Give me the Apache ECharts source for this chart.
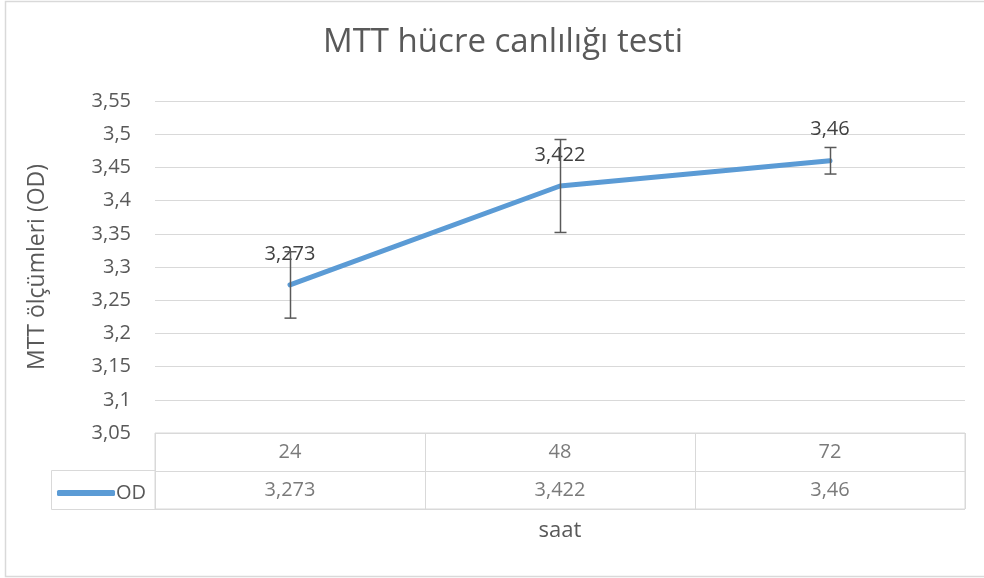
<!DOCTYPE html>
<html>
<head>
<meta charset="utf-8">
<script src="https://cdn.jsdelivr.net/npm/echarts@6/dist/echarts.min.js"></script>
<style>html,body{margin:0;padding:0;background:#fff}#c{width:984px;height:578px}</style>
</head>
<body>
<div id="c"></div>
<script>
var categories = ['24', '48', '72'];
var odValues = [3.273, 3.422, 3.46];
var errLow = [3.223, 3.352, 3.44];
var errHigh = [3.323, 3.492, 3.48];
var seriesName = 'OD';
var yMin = 3.05, yMax = 3.55, yStep = 0.05;

function fmt(v) { return String(+(+v).toFixed(3)).replace('.', ','); }

var FONT = 'Open Sans';
var TXT = '#595959';
var GRID = '#d9d9d9';

var chart = echarts.init(document.getElementById('c'), null, {renderer: 'canvas'});

var tableData = [];
categories.forEach(function (c, i) {
  tableData.push({value: [c, 'cat'], txt: c});
  tableData.push({value: [c, 'val'], txt: fmt(odValues[i])});
});

chart.setOption({
  animation: false,
  textStyle: {fontFamily: FONT},
  title: {
    text: 'MTT hücre canlılığı testi',
    left: 318, top: 21,
    textStyle: {fontFamily: FONT, fontSize: 33, fontWeight: 'normal', color: TXT}
  },
  legend: {
    show: true, left: 52, top: 478,
    icon: 'roundRect', itemWidth: 58, itemHeight: 6, itemGap: 2,
    data: [seriesName],
    textStyle: {fontFamily: FONT, fontSize: 20, color: TXT, padding: [0, 0, 0, -4]},
    selectedMode: false
  },
  grid: [
    {left: 155, right: 19, top: 101, bottom: 145, containLabel: false},
    {left: 155, right: 19, top: 433, height: 76, show: true, borderColor: GRID, borderWidth: 1, containLabel: false}
  ],
  xAxis: [
    {type: 'category', gridIndex: 0, data: categories, boundaryGap: true,
     axisLine: {show: false}, axisTick: {show: false}, axisLabel: {show: false}, splitLine: {show: false}},
    {type: 'category', gridIndex: 1, data: categories, boundaryGap: true,
     axisLine: {show: false}, axisTick: {show: false}, axisLabel: {show: false},
     splitLine: {show: true, lineStyle: {color: GRID, width: 1}},
     name: 'saat', nameLocation: 'middle', nameGap: 11,
     nameTextStyle: {fontFamily: FONT, fontSize: 22, color: TXT, verticalAlign: 'top'}}
  ],
  yAxis: [
    {type: 'value', gridIndex: 0, min: yMin, max: yMax, interval: yStep,
     axisLine: {show: false}, axisTick: {show: false},
     axisLabel: {formatter: function (v) { return fmt(v); }, fontFamily: FONT, fontSize: 20, color: TXT, margin: 24},
     splitLine: {lineStyle: {color: GRID, width: 1}},
     name: 'MTT ölçümleri (OD)', nameLocation: 'middle', nameGap: 106, nameRotate: 90,
     nameTextStyle: {fontFamily: FONT, fontSize: 23, color: TXT}},
    {type: 'category', gridIndex: 1, data: ['val', 'cat'],
     axisLine: {show: false}, axisTick: {show: false}, axisLabel: {show: false},
     splitLine: {show: true, lineStyle: {color: GRID, width: 1}}}
  ],
  series: [
    {
      name: seriesName, type: 'line', xAxisIndex: 0, yAxisIndex: 0,
      data: odValues, showSymbol: true, symbol: 'circle', symbolSize: 0,
      lineStyle: {color: '#5b9bd5', width: 5, cap: 'round', join: 'round'},
      itemStyle: {color: '#5b9bd5'},
      label: {show: true, position: 'top', distance: 21, formatter: function (p) { return fmt(p.value); },
        fontFamily: FONT, fontSize: 20, color: '#404040'},
      z: 3
    },
    {
      name: 'err', type: 'custom', xAxisIndex: 0, yAxisIndex: 0,
      data: categories.map(function (c, i) { return [i, errLow[i], errHigh[i]]; }),
      renderItem: function (params, api) {
        var lo = api.coord([api.value(0), api.value(1)]);
        var hi = api.coord([api.value(0), api.value(2)]);
        var x = Math.round(lo[0]) + 0.5, hw = 6;
        var st = {stroke: '#595959', lineWidth: 1.5};
        return {type: 'group', children: [
          {type: 'line', shape: {x1: x, y1: lo[1], x2: x, y2: hi[1]}, style: st},
          {type: 'line', shape: {x1: x - hw, y1: lo[1], x2: x + hw, y2: lo[1]}, style: st},
          {type: 'line', shape: {x1: x - hw, y1: hi[1], x2: x + hw, y2: hi[1]}, style: st}
        ]};
      },
      z: 4, silent: true
    },
    {
      name: 'table', type: 'scatter', xAxisIndex: 1, yAxisIndex: 1,
      data: tableData, symbolSize: 0, silent: true,
      label: {show: true, position: 'inside', formatter: function (p) { return p.data.txt; },
        fontFamily: FONT, fontSize: 20, color: TXT}
    }
  ],
  graphic: [
    {type: 'rect', shape: {x: 5.5, y: 1.5, width: 1000, height: 575}, style: {fill: null, stroke: GRID, lineWidth: 1.5}, silent: true},
    {type: 'line', shape: {x1: 51.5, y1: 470.5, x2: 155.5, y2: 470.5}, style: {stroke: GRID, lineWidth: 1}, silent: true},
    {type: 'line', shape: {x1: 51.5, y1: 509.5, x2: 155.5, y2: 509.5}, style: {stroke: GRID, lineWidth: 1}, silent: true},
    {type: 'line', shape: {x1: 51.5, y1: 470.5, x2: 51.5, y2: 509.5}, style: {stroke: GRID, lineWidth: 1}, silent: true}
  ]
});
</script>
</body>
</html>
